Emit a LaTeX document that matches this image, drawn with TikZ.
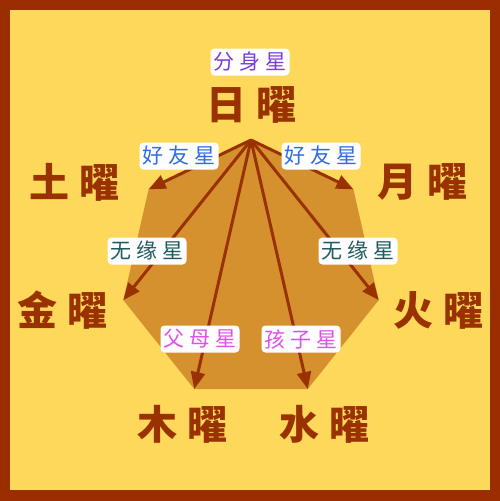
\documentclass[tikz,border=0pt]{standalone}
\usepackage{fontspec}
\newfontfamily\cjk{Noto Sans CJK SC}
\usetikzlibrary{arrows.meta}
\definecolor{bg}{HTML}{FDD85A}
\definecolor{frame}{HTML}{9B2E00}
\definecolor{hept}{HTML}{D4912E}
\definecolor{brn}{HTML}{9A3200}
\definecolor{cblue}{HTML}{2F6BE8}
\definecolor{cpurple}{HTML}{7A3CE0}
\definecolor{cteal}{HTML}{1D5B5E}
\definecolor{cpink}{HTML}{E050E8}
\newcommand\three[3]{#1\hspace{5pt}#2\hspace{5pt}#3}
\newcommand\two[2]{#1\hspace{10pt}#2}
\tikzset{
  big/.style={font=\cjk\bfseries\fontsize{40}{42}\selectfont, text=brn, inner sep=0pt},
  tag/.style={font=\cjk\fontsize{21}{23}\selectfont, fill=white, rounded corners=4pt,
    inner xsep=3pt, inner ysep=0pt, minimum height=27pt},
  arr/.style={draw=brn, line width=3pt, -{Triangle[length=17pt,width=14pt]}, shorten >=0pt}
}
\begin{document}
\begin{tikzpicture}[x=1pt,y=-1pt]
\useasboundingbox (0,0) rectangle (500,501);
\fill[frame] (0,0) rectangle (500,501);
\fill[bg] (10,10) rectangle (490,490);
% heptagon vertices
\coordinate (v0) at (251,140);
\coordinate (v1) at (148.6,189.3);
\coordinate (v2) at (123.3,300.1);
\coordinate (v3) at (194.2,389.0);
\coordinate (v4) at (307.8,389.0);
\coordinate (v5) at (378.7,300.1);
\coordinate (v6) at (353.4,189.3);
\fill[hept] (v0) -- (v1) -- (v2) -- (v3) -- (v4) -- (v5) -- (v6) -- cycle;
\foreach \v in {v1,v2,v3,v4,v5,v6} \draw[arr] (v0) -- (\v);
% planet names
\node[big] (sun) at (251,105) {\two{日}{曜}};
\node[big] (sat) at (75,182) {\two{土}{曜}};
\node[big] (moon) at (422,182) {\two{月}{曜}};
\node[big] (ven) at (62,310) {\two{金}{曜}};
\node[big] (mar) at (438,310) {\two{火}{曜}};
\node[big] (jup) at (182,424) {\two{木}{曜}};
\node[big] (mer) at (324,424) {\two{水}{曜}};
% relation labels
\node[tag, text=cpurple] (self) at (250,62) {\three{分}{身}{星}};
\node[tag, text=cblue] (fl) at (179,156) {\three{好}{友}{星}};
\node[tag, text=cblue] (fr) at (321,156) {\three{好}{友}{星}};
\node[tag, text=cteal] (nl) at (147,251) {\three{无}{缘}{星}};
\node[tag, text=cteal] (nr) at (358,251) {\three{无}{缘}{星}};
\node[tag, text=cpink] (par) at (200,339) {\three{父}{母}{星}};
\node[tag, text=cpink] (chi) at (301,339) {\three{孩}{子}{星}};
\end{tikzpicture}
\end{document}
